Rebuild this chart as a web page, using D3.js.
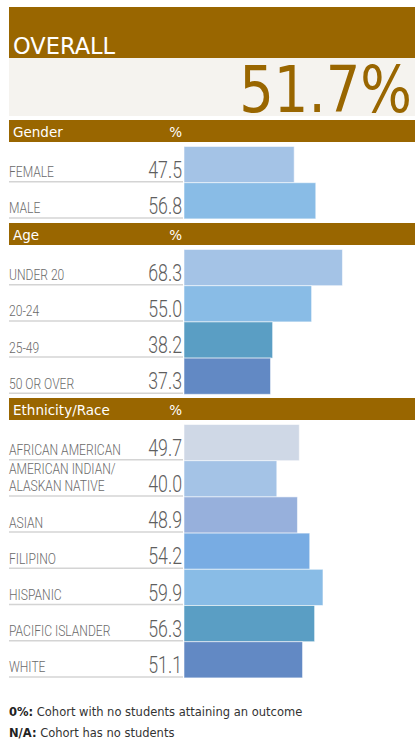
<!DOCTYPE html>
<html><head><meta charset="utf-8">
<script src="https://cdnjs.cloudflare.com/ajax/libs/d3/7.8.5/d3.min.js"></script>
<style>
html,body{margin:0;padding:0;background:#fff;}
svg{display:block;}
</style></head>
<body>
<script>
const overallLabel = "OVERALL";
const overallValue = 51.7;

const genderCategories = ["FEMALE", "MALE"];
const genderValues = [47.5, 56.8];
const genderColors = ["#a4c3e6", "#89bce6"];

const ageCategories = ["UNDER 20", "20-24", "25-49", "50 OR OVER"];
const ageValues = [68.3, 55.0, 38.2, 37.3];
const ageColors = ["#a4c3e6", "#89bce6", "#5a9ec4", "#6289c4"];

const ethCategories = ["AFRICAN AMERICAN", "AMERICAN INDIAN/\nALASKAN NATIVE", "ASIAN", "FILIPINO", "HISPANIC", "PACIFIC ISLANDER", "WHITE"];
const ethValues = [49.7, 40.0, 48.9, 54.2, 59.9, 56.3, 51.1];
const ethColors = ["#cfd8e6", "#a4c3e6", "#97b0dc", "#78ace3", "#89bce6", "#5a9ec4", "#6289c4"];

const sectionTitles = ["Gender", "Age", "Ethnicity/Race"];
const notes = [["0%:", "Cohort with no students attaining an outcome"], ["N/A:", "Cohort has no students"]];

const W = 415, H = 740;
const BROWN = "#996600";
const svg = d3.select("body").append("svg").attr("width", W).attr("height", H);

// Overall header
svg.append("rect").attr("x", 9).attr("y", 7).attr("width", W - 9).attr("height", 51).attr("fill", BROWN);
svg.append("text").attr("x", 13).attr("y", 54).text(overallLabel)
  .attr("font-family", "DejaVu Sans, Verdana, sans-serif").attr("font-size", 22.5).attr("fill", "#fff");
svg.append("rect").attr("x", 9).attr("y", 58).attr("width", W - 9).attr("height", 58).attr("fill", "#f5f3ef");
svg.append("text").attr("transform", "translate(412,112) scale(0.85,1)")
  .attr("text-anchor", "end").text(d3.format(".1f")(overallValue) + "%")
  .attr("font-family", "DejaVu Sans, Verdana, sans-serif").attr("font-size", 64).attr("fill", BROWN);

const x = d3.scaleLinear().domain([0, 100]).range([184, 416]);

const sections = [
  {title: sectionTitles[0], cats: genderCategories, vals: genderValues, cols: genderColors, top: 120},
  {title: sectionTitles[1], cats: ageCategories, vals: ageValues, cols: ageColors, top: 223},
  {title: sectionTitles[2], cats: ethCategories, vals: ethValues, cols: ethColors, top: 398}
];
const rowH = 36.2, headH = 22;

sections.forEach(s => {
  const g = svg.append("g");
  g.append("rect").attr("x", 9).attr("y", s.top).attr("width", W - 9).attr("height", headH).attr("fill", BROWN);
  g.append("text").attr("x", 13).attr("y", s.top + headH - 5).text(s.title)
    .attr("font-family", "DejaVu Sans, Verdana, sans-serif").attr("font-size", 13.5).attr("fill", "#fff");
  g.append("text").attr("x", 182).attr("y", s.top + headH - 5).attr("text-anchor", "end").text("%")
    .attr("font-family", "DejaVu Sans, Verdana, sans-serif").attr("font-size", 13.5).attr("fill", "#fff");

  const y0 = s.top + headH + 4;
  const y = d3.scaleBand().domain(s.cats).range([y0, y0 + rowH * s.cats.length]).padding(0);
  const data = s.cats.map((c, i) => ({c, v: s.vals[i], col: s.cols[i]}));

  // separator lines
  g.selectAll("line.sep").data(data).join("line")
    .attr("x1", 9).attr("x2", 183)
    .attr("y1", d => y(d.c) + y.bandwidth() - 0.5).attr("y2", d => y(d.c) + y.bandwidth() - 0.5)
    .attr("stroke", "#d4d4d4").attr("stroke-width", 1.5);

  g.selectAll("rect.bar").data(data).join("rect")
    .attr("x", x(0)).attr("y", d => y(d.c) + 0.5)
    .attr("width", d => x(d.v) - x(0)).attr("height", y.bandwidth())
    .attr("fill", d => d.col).attr("stroke", "rgba(255,255,255,0.55)").attr("stroke-width", 1);

  data.forEach(d => {
    const lines = d.c.split("\n");
    const base = y(d.c) + y.bandwidth() - 5;
    lines.forEach((ln, k) => {
      g.append("text")
        .attr("transform", `translate(9,${base - (lines.length - 1 - k) * 17}) scale(0.78,1)`)
        .text(ln).attr("font-family", "Roboto, sans-serif").attr("font-weight", 300)
        .attr("font-size", 15.5).attr("fill", "#6a6a6a");
    });
    g.append("text")
      .attr("transform", `translate(182,${base + 0.5}) scale(0.74,1)`)
      .attr("text-anchor", "end").text(d3.format(".1f")(d.v))
      .attr("font-family", "Roboto, sans-serif").attr("font-weight", 300)
      .attr("font-size", 24).attr("fill", "#5e5e5e");
  });
});

notes.forEach((n, i) => {
  const t = svg.append("text").attr("x", 9).attr("y", 716 + i * 21)
    .attr("font-family", "DejaVu Sans, Verdana, sans-serif").attr("font-size", 11.5).attr("fill", "#333");
  t.append("tspan").attr("font-weight", "bold").attr("fill", "#222").text(n[0]);
  t.append("tspan").text(" " + n[1]);
});
</script>
</body></html>
